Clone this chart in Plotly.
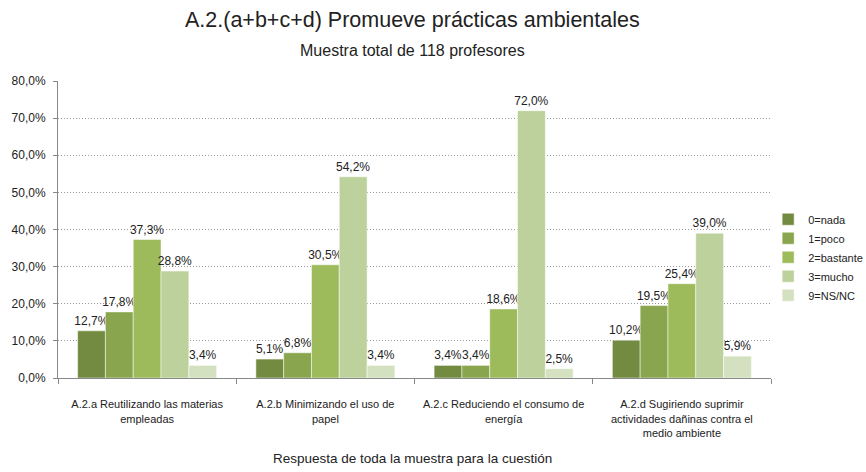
import plotly.graph_objects as go

categories = [
    "A.2.a Reutilizando las materias<br>empleadas",
    "A.2.b Minimizando el uso de<br>papel",
    "A.2.c Reduciendo el consumo de<br>energía",
    "A.2.d Sugiriendo suprimir<br>actividades dañinas contra el<br>medio ambiente",
]
series_names = ["0=nada", "1=poco", "2=bastante", "3=mucho", "9=NS/NC"]
nada = [12.7, 5.1, 3.4, 10.2]
poco = [17.8, 6.8, 3.4, 19.5]
bastante = [37.3, 30.5, 18.6, 25.4]
mucho = [28.8, 54.2, 72.0, 39.0]
nsnc = [3.4, 3.4, 2.5, 5.9]
series_values = [nada, poco, bastante, mucho, nsnc]
colors = ["#738b41", "#89a54d", "#9dbb5a", "#bcd19b", "#d4e1c0"]
y_ticks = [0, 10, 20, 30, 40, 50, 60, 70, 80]
y_ticktext = [f"{v:.1f}%".replace(".", ",") for v in y_ticks]

SANS = "Liberation Sans, Arial, sans-serif"

fig = go.Figure()
for name, vals, col in zip(series_names, series_values, colors):
    fig.add_trace(go.Bar(
        x=categories, y=vals, name=name,
        marker=dict(color=col, line=dict(color="white", width=0.5)),
        text=vals, texttemplate="%{y:.1f}%", textposition="outside",
        constraintext="none",
        textfont=dict(size=12, color="#222", family=SANS),
        cliponaxis=False,
    ))

fig.update_layout(
    width=866, height=472,
    separators=",.",
    barmode="group", bargap=0.22, bargroupgap=0,
    plot_bgcolor="white", paper_bgcolor="white",
    margin=dict(l=58, r=95, t=81, b=94, autoexpand=False),
    font=dict(family=SANS, color="#222"),
    annotations=[
        dict(text="A.2.(a+b+c+d) Promueve prácticas ambientales", xref="paper", yref="paper",
             x=0.497, y=1.0, yshift=61, showarrow=False, yanchor="middle",
             font=dict(size=21.5, color="#222", family=SANS)),
        dict(text="Muestra total de 118 profesores", xref="paper", yref="paper",
             x=0.497, y=1.0, yshift=31, showarrow=False, yanchor="middle",
             font=dict(size=16, color="#222", family=SANS)),
        dict(text="Respuesta de toda la muestra para la cuestión", xref="paper", yref="paper",
             x=0.497, y=0, yshift=-80, showarrow=False, yanchor="middle",
             font=dict(size=13.5, color="#222", family=SANS)),
    ],
    legend=dict(xref="container", yref="container", x=0.887, y=0.455,
                xanchor="left", yanchor="middle",
                font=dict(size=11, color="#222", family=SANS),
                tracegroupgap=0, itemwidth=30, bgcolor="rgba(0,0,0,0)"),
    yaxis=dict(range=[0, 80], tickvals=y_ticks, ticktext=y_ticktext,
               showgrid=True, gridcolor="#999", griddash="1px,2px", gridwidth=1,
               showline=True, linecolor="#888", linewidth=1,
               ticks="outside", ticklen=4, tickcolor="#888", ticklabelstandoff=5,
               tickfont=dict(size=12, color="#222", family=SANS),
               zeroline=False, automargin=False),
    xaxis=dict(showline=True, linecolor="#888", linewidth=1, tickangle=0,
               ticks="outside", tickson="boundaries", ticklen=5, tickcolor="#888",
               ticklabelstandoff=16,
               tickfont=dict(size=11, color="#222", family=SANS), automargin=False),
)

fig.write_html("out.html", config={"displayModeBar": False},
               post_script="document.body.style.margin='0';")
